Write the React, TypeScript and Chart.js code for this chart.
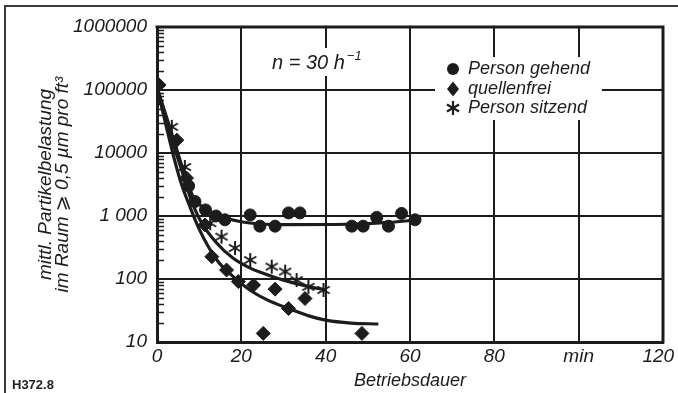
import React, { useEffect, useRef } from 'react';
import { Chart, registerables } from 'chart.js';

Chart.register(...registerables);

const FONT = "'Liberation Sans', 'DejaVu Sans', Arial, sans-serif";
const INK = '#1c1c1c';

// axis ticks
const xTickValues = [0, 20, 40, 60, 80, 100, 120];
const xTickLabels = ['0', '20', '40', '60', '80', 'min', '120\u2002'];
const yTickValues = [10, 100, 1000, 10000, 100000, 1000000];
const yTickLabels = ['10', '100', '1 000', '10000', '100000', '1000000'];

// measured points: Person gehend (circles)
const gehendX = [7.5, 9, 11.5, 14, 16.1, 22.1, 24.4, 28, 31.2, 33.9, 46.2, 48.9, 52.1, 54.9, 58, 61.2];
const gehendY = [3000, 1700, 1250, 1000, 870, 1040, 690, 690, 1120, 1120, 690, 690, 950, 690, 1100, 870];

// measured points: quellenfrei (diamonds)
const quellX = [0.5, 4.7, 7, 11.4, 13, 16.5, 19.3, 22.9, 25.2, 28, 31.2, 35.1, 48.6];
const quellY = [120000, 16000, 4000, 720, 226, 139, 91, 80, 13.7, 69, 34, 49, 13.7];

// measured points: Person sitzend (asterisks)
const sitzX = [3.5, 6.6, 12.6, 15.3, 18.5, 22.1, 27.2, 30.4, 33.1, 35.9, 39.5];
const sitzY = [26000, 6000, 770, 470, 310, 200, 157, 131, 96, 75, 67];

// fitted curves
const gehendCurveX = [0, 2, 4, 6, 8.6, 11, 14.2, 18, 22, 30, 45, 55, 62];
const gehendCurveY = [110000, 42000, 16000, 6000, 2000, 1350, 1050, 865, 775, 730, 740, 790, 870];
const sitzCurveX = [0, 2, 4, 6, 8, 10.2, 14.2, 18, 22, 26, 30, 36.3, 40.3];
const sitzCurveY = [110000, 38000, 13000, 5000, 1900, 865, 369, 215, 150, 118, 96, 75, 67];
const quellCurveX = [0, 2, 4, 5.5, 8, 10, 14.2, 18, 22, 26, 31.2, 36, 40.3, 46, 52.5];
const quellCurveY = [110000, 30000, 8500, 3700, 1300, 620, 200, 110, 67, 47, 34, 26, 22, 20, 19.3];

const legendLabels = ['Person gehend', 'quellenfrei', 'Person sitzend'];
const yTitle = ['mittl. Partikelbelastung', 'im Raum \u2A7E 0,5 \u00B5m pro ft\u00B3'];
const xTitle = 'Betriebsdauer';
const noteMain = 'n = 30 h';
const noteSup = '\u22121';
const figId = 'H372.8';

const pts = (xs: number[], ys: number[]) => xs.map((x, i) => ({ x, y: ys[i] }));

function drawAsterisk(ctx: CanvasRenderingContext2D, cx: number, cy: number, r: number, lw: number) {
  ctx.save();
  ctx.strokeStyle = INK;
  ctx.lineWidth = lw;
  ctx.lineCap = 'butt';
  [90, 30, 150].forEach((deg) => {
    const a = (deg * Math.PI) / 180;
    ctx.beginPath();
    ctx.moveTo(cx - r * Math.cos(a), cy - r * Math.sin(a));
    ctx.lineTo(cx + r * Math.cos(a), cy + r * Math.sin(a));
    ctx.stroke();
  });
  ctx.restore();
}

const decor = {
  id: 'decor',
  beforeDraw(chart: any) {
    const { ctx, width, height } = chart;
    ctx.save();
    ctx.fillStyle = '#ffffff';
    ctx.fillRect(0, 0, width, height);
    ctx.strokeStyle = '#3a3a3a';
    ctx.lineWidth = 2;
    ctx.beginPath();
    ctx.moveTo(5, height);
    ctx.lineTo(5, 6);
    ctx.lineTo(width, 6);
    ctx.stroke();
    ctx.restore();
  },
  afterDraw(chart: any) {
    const { ctx } = chart;
    const { left, right, top, bottom } = chart.chartArea;
    const y = chart.scales.y;
    ctx.save();
    // top and right frame
    ctx.strokeStyle = INK;
    ctx.lineWidth = 3;
    ctx.beginPath();
    ctx.moveTo(left - 1.5, top);
    ctx.lineTo(right, top);
    ctx.lineTo(right, bottom + 1.5);
    ctx.stroke();
    // minor log ticks inside left axis
    ctx.lineWidth = 1.5;
    for (let d = 10; d < 1000000; d *= 10) {
      for (let m = 2; m <= 9; m++) {
        const py = Math.round(y.getPixelForValue(m * d)) + 0.5;
        ctx.beginPath();
        ctx.moveTo(left, py);
        ctx.lineTo(left + 7, py);
        ctx.stroke();
      }
    }
    // annotation n = 30 h^-1
    ctx.fillStyle = '#ffffff';
    ctx.fillRect(268, 48, 100, 28);
    ctx.fillStyle = INK;
    ctx.textBaseline = 'alphabetic';
    ctx.textAlign = 'left';
    ctx.font = `italic 20px ${FONT}`;
    ctx.fillText(noteMain, 272, 69);
    const w = ctx.measureText(noteMain).width;
    ctx.font = `italic 13px ${FONT}`;
    ctx.fillText(noteSup, 272 + w + 2, 60);
    // legend
    ctx.fillStyle = '#ffffff';
    ctx.fillRect(435, 57, 167, 63);
    ctx.fillStyle = INK;
    const ly = [69, 89, 108];
    ctx.beginPath();
    ctx.arc(453, ly[0], 6, 0, Math.PI * 2);
    ctx.fill();
    ctx.beginPath();
    ctx.moveTo(453, ly[1] - 7.5);
    ctx.lineTo(459, ly[1]);
    ctx.lineTo(453, ly[1] + 7.5);
    ctx.lineTo(447, ly[1]);
    ctx.closePath();
    ctx.fill();
    drawAsterisk(ctx, 453, ly[2], 7, 2.2);
    ctx.font = `italic 18px ${FONT}`;
    ctx.textBaseline = 'middle';
    legendLabels.forEach((t, i) => ctx.fillText(t, 468, ly[i]));
    // figure id
    ctx.font = `bold 13px ${FONT}`;
    ctx.fillStyle = '#222';
    ctx.fillText(figId, 12, 385);
    ctx.restore();
  },
};

export default function App() {
  const ref = useRef<HTMLCanvasElement | null>(null);
  useEffect(() => {
    const canvas = ref.current;
    if (!canvas) return;
    const star = document.createElement('canvas');
    star.width = 16;
    star.height = 16;
    const sctx = star.getContext('2d');
    if (sctx) drawAsterisk(sctx, 8, 8, 7, 2);

    const curve = (xs: number[], ys: number[]) => ({
      data: pts(xs, ys),
      showLine: true,
      pointRadius: 0,
      borderColor: INK,
      borderWidth: 3.2,
      cubicInterpolationMode: 'monotone',
      fill: false,
    });

    const chart = new Chart(canvas, {
      type: 'scatter',
      data: {
        datasets: [
          curve(gehendCurveX, gehendCurveY),
          curve(sitzCurveX, sitzCurveY),
          curve(quellCurveX, quellCurveY),
          {
            data: pts(gehendX, gehendY),
            pointStyle: 'circle',
            pointRadius: 6,
            backgroundColor: INK,
            borderColor: INK,
            borderWidth: 1,
          },
          {
            data: pts(quellX, quellY),
            pointStyle: 'rectRot',
            pointRadius: 7,
            backgroundColor: INK,
            borderColor: INK,
            borderWidth: 1,
          },
          {
            data: pts(sitzX, sitzY),
            pointStyle: star,
            pointRadius: 8,
            backgroundColor: INK,
            borderColor: INK,
          },
        ] as any,
      },
      options: {
        animation: false,
        responsive: false,
        devicePixelRatio: 1,
        layout: { padding: { top: 27, right: 15, left: 0, bottom: 0 } },
        plugins: { legend: { display: false }, tooltip: { enabled: false } },
        scales: {
          x: {
            type: 'linear',
            min: 0,
            max: 120,
            afterBuildTicks: (s: any) => {
              s.ticks = xTickValues.map((v) => ({ value: v }));
            },
            afterFit: (s: any) => {
              s.height = 51;
              s.paddingLeft = 0;
              s.paddingRight = 0;
            },
            grid: { color: INK, lineWidth: 2, drawTicks: false },
            border: { color: INK, width: 3 },
            ticks: {
              color: INK,
              padding: 3,
              maxRotation: 0,
              autoSkip: false,
              font: { family: FONT, size: 19, style: 'italic' },
              callback: (_v: any, i: number) => xTickLabels[i],
            },
            title: {
              display: true,
              text: xTitle,
              color: INK,
              font: { family: FONT, size: 18, style: 'italic', lineHeight: 1.2 },
              padding: { top: 0, bottom: 1 },
            },
          },
          y: {
            type: 'logarithmic',
            min: 10,
            max: 1000000,
            afterBuildTicks: (s: any) => {
              s.ticks = yTickValues.map((v) => ({ value: v }));
            },
            afterFit: (s: any) => {
              s.width = 157;
              s.paddingTop = 0;
              s.paddingBottom = 0;
            },
            grid: { color: INK, lineWidth: 2, drawTicks: false },
            border: { color: INK, width: 3 },
            ticks: {
              color: INK,
              padding: 10,
              autoSkip: false,
              font: { family: FONT, size: 19, style: 'italic' },
              callback: (_v: any, i: number) => yTickLabels[i],
            },
            title: {
              display: true,
              text: yTitle,
              color: INK,
              font: { family: FONT, size: 19, style: 'italic', lineHeight: 16.6 / 19 },
              padding: { top: 37.5, bottom: 0 },
            },
          },
        },
      } as any,
      plugins: [decor],
    });
    return () => chart.destroy();
  }, []);

  return (
    <div style={{ position: 'fixed', left: 0, top: 0, width: 678, height: 393, background: '#fff' }}>
      <canvas ref={ref} width={678} height={393} style={{ display: 'block', width: 678, height: 393 }} />
    </div>
  );
}
